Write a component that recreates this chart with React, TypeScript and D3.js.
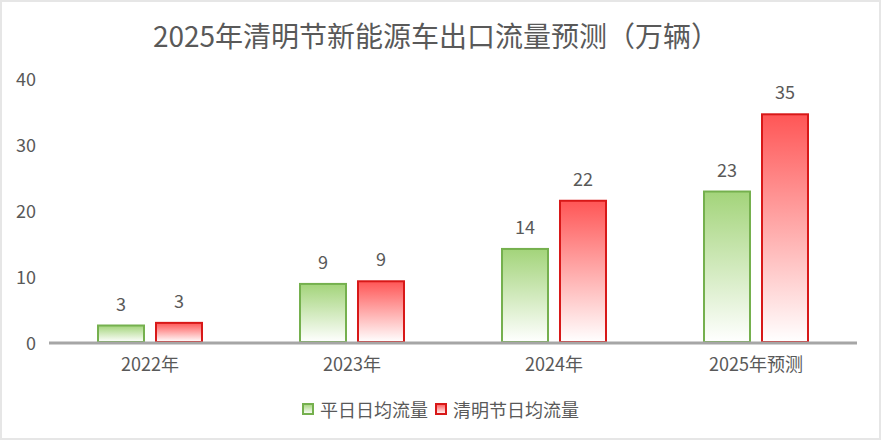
import * as d3 from "d3";

const categories = ["2022年", "2023年", "2024年", "2025年预测"];
const seriesNames = ["平日日均流量", "清明节日均流量"];
// bar heights, labels are the rounded figures shown
const weekdayValues = [2.5, 8.8, 14.1, 22.8];
const holidayValues = [2.9, 9.2, 21.4, 34.5];
const weekdayLabels = ["3", "9", "14", "23"];
const holidayLabels = ["3", "9", "22", "35"];
const yTicks = [0, 10, 20, 30, 40];

const width = 882;
const height = 446;
const font = "'Noto Sans CJK SC', 'Noto Sans', sans-serif";
const textColor = "#595959";

const colors = [
  { top: "#a3d47a", stroke: "#75b04e", id: "gradGreen" },
  { top: "#ff5656", stroke: "#d81818", id: "gradRed" },
];

export default function App() {
  const x = d3.scaleBand().domain(categories).range([49, 857]).padding(0);
  const xSub = d3
    .scaleBand()
    .domain(seriesNames)
    .range([0, x.bandwidth()])
    .paddingInner(0.207)
    .paddingOuter(0.845);
  const y = d3.scaleLinear().domain([0, 40]).range([342, 78]);

  const series = [
    { name: seriesNames[0], values: weekdayValues, labels: weekdayLabels, ...colors[0] },
    { name: seriesNames[1], values: holidayValues, labels: holidayLabels, ...colors[1] },
  ];

  return (
    <svg
      width={width}
      height={height}
      style={{ position: "absolute", left: 0, top: 0 }}
      fontFamily={font}
    >
      <defs>
        {colors.map((c) => (
          <linearGradient key={c.id} id={c.id} x1="0" y1="0" x2="0" y2="1">
            <stop offset="0%" stopColor={c.top} />
            <stop offset="100%" stopColor="#ffffff" />
          </linearGradient>
        ))}
      </defs>
      <rect x={0} y={0} width={width} height={height} fill="#ffffff" />
      <rect
        x={1}
        y={1}
        width={879}
        height={438}
        fill="#ffffff"
        stroke="#e6e6e6"
        strokeWidth={2}
      />

      <text
        x={436}
        y={35}
        textAnchor="middle"
        dominantBaseline="central"
        fontSize={28}
        fill={textColor}
      >
        2025年清明节新能源车出口流量预测（万辆）
      </text>

      {yTicks.map((t) => (
        <text
          key={t}
          x={36}
          y={y(t)}
          textAnchor="end"
          dominantBaseline="central"
          fontSize={18}
          fill={textColor}
        >
          {t}
        </text>
      ))}

      {series.map((s) => (
        <g key={s.name}>
          {categories.map((c, i) => {
            const bx = (x(c) ?? 0) + (xSub(s.name) ?? 0);
            const top = y(s.values[i]);
            return (
              <g key={c}>
                <rect
                  x={bx}
                  y={top}
                  width={xSub.bandwidth()}
                  height={y(0) - top}
                  fill={`url(#${s.id})`}
                  stroke={s.stroke}
                  strokeWidth={2}
                />
                <text
                  x={bx + xSub.bandwidth() / 2}
                  y={top - 23}
                  textAnchor="middle"
                  dominantBaseline="central"
                  fontSize={18}
                  fill={textColor}
                >
                  {s.labels[i]}
                </text>
              </g>
            );
          })}
        </g>
      ))}

      <line x1={49} x2={857} y1={y(0) + 1} y2={y(0) + 1} stroke="#a6a6a6" strokeWidth={3} />

      {categories.map((c) => (
        <text
          key={c}
          x={(x(c) ?? 0) + x.bandwidth() / 2}
          y={363}
          textAnchor="middle"
          dominantBaseline="central"
          fontSize={18}
          fill={textColor}
        >
          {c}
        </text>
      ))}

      {series.map((s, i) => {
        const lx = i === 0 ? 303 : 436;
        return (
          <g key={s.name}>
            <rect
              x={lx}
              y={404}
              width={10}
              height={10}
              fill={`url(#${s.id})`}
              stroke={s.stroke}
              strokeWidth={2}
            />
            <text
              x={lx + 17}
              y={409}
              dominantBaseline="central"
              fontSize={18}
              fill={textColor}
            >
              {s.name}
            </text>
          </g>
        );
      })}
    </svg>
  );
}
